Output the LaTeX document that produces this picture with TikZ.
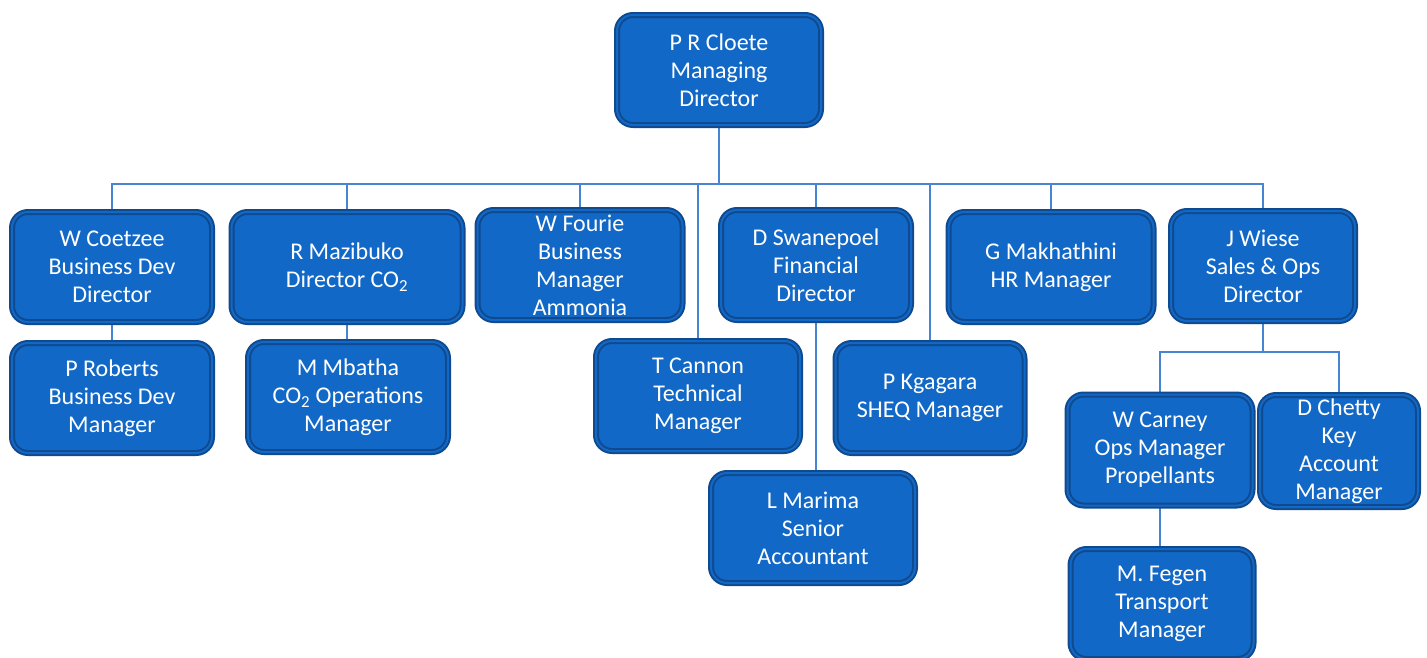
\documentclass[tikz,border=0pt]{standalone}
\usepackage{fontspec}
\setmainfont{Carlito}
\usetikzlibrary{backgrounds}
\definecolor{boxfill}{RGB}{18,104,198}
\definecolor{boxedge}{RGB}{16,74,142}
\definecolor{wire}{RGB}{70,132,212}
\begin{document}
\begin{tikzpicture}[x=1pt, y=-1pt, thick]
    \tikzstyle{person} = [draw=boxedge, fill=boxfill, double=boxfill, double distance=2pt, line width=2pt, rounded corners=16pt, minimum height=110pt, text=white, align=center, inner sep=0pt, font=\fontsize{24}{28}\selectfont]
    \tikzstyle{link} = [draw=wire, line width=2pt]

    \useasboundingbox (0,0) rectangle (1427,657);

    \node [person, minimum width=204pt] (cloete) at (719,70) {P R Cloete\\Managing\\Director};

    \node [person, minimum width=200pt] (coetzee) at (112,267) {W Coetzee\\Business Dev\\Director};
    \node [person, minimum width=231pt] (mazibuko) at (347,267) {R Mazibuko\\Director CO\textsubscript{2}};
    \node [person, minimum width=205pt] (fourie) at (580,265) {W Fourie\\Business\\Manager\\Ammonia};
    \node [person, minimum width=190pt] (swanepoel) at (816,265) {D Swanepoel\\Financial\\Director};
    \node [person, minimum width=205pt] (makhathini) at (1051,267) {G Makhathini\\HR Manager};
    \node [person, minimum width=184pt] (wiese) at (1263,266) {J Wiese\\Sales \& Ops\\Director};

    \node [person, minimum width=200pt] (roberts) at (112,398) {P Roberts\\Business Dev\\Manager};
    \node [person, minimum width=200pt] (mbatha) at (348,397) {M Mbatha\\CO\textsubscript{2} Operations\\Manager};
    \node [person, minimum width=204pt] (cannon) at (698,396) {T Cannon\\Technical\\Manager};
    \node [person, minimum width=189pt] (kgagara) at (930,398) {P Kgagara\\SHEQ Manager};
    \node [person, minimum width=204pt] (marima) at (813,528) {L Marima\\Senior\\Accountant};

    \node [person, minimum width=185pt, minimum height=111pt] (carney) at (1160,450) {W Carney\\Ops Manager\\Propellants};
    \node [person, minimum width=158pt, minimum height=112pt] (chetty) at (1339,451) {D Chetty\\Key\\Account\\Manager};
    \node [person, minimum width=183pt] (fegen) at (1162,604) {M. Fegen\\Transport\\Manager};

    \coordinate (bus) at (719,184);
    \coordinate (wbus) at (1261,352);

    \begin{scope}[on background layer]
    \draw [link] (cloete) -- (bus);
    \draw [link] (coetzee) -- (coetzee |- bus) -- (wiese |- bus) -- (wiese);
    \draw [link] (mazibuko) -- (mazibuko |- bus);
    \draw [link] (fourie) -- (fourie |- bus);
    \draw [link] (cannon) -- (cannon |- bus);
    \draw [link] (swanepoel) -- (swanepoel |- bus);
    \draw [link] (kgagara) -- (kgagara |- bus);
    \draw [link] (makhathini) -- (makhathini |- bus);
    \draw [link] (coetzee) -- (roberts);
    \draw [link] (mazibuko) -- (mazibuko |- mbatha);
    \draw [link] (swanepoel.south) -- (swanepoel.south |- marima);
    \draw [link] (wiese) -- (wiese |- wbus);
    \draw [link] (carney) |- (wbus) -| (chetty);
    \draw [link] (carney) -- (carney |- fegen);
    \end{scope}
\end{tikzpicture}
\end{document}
